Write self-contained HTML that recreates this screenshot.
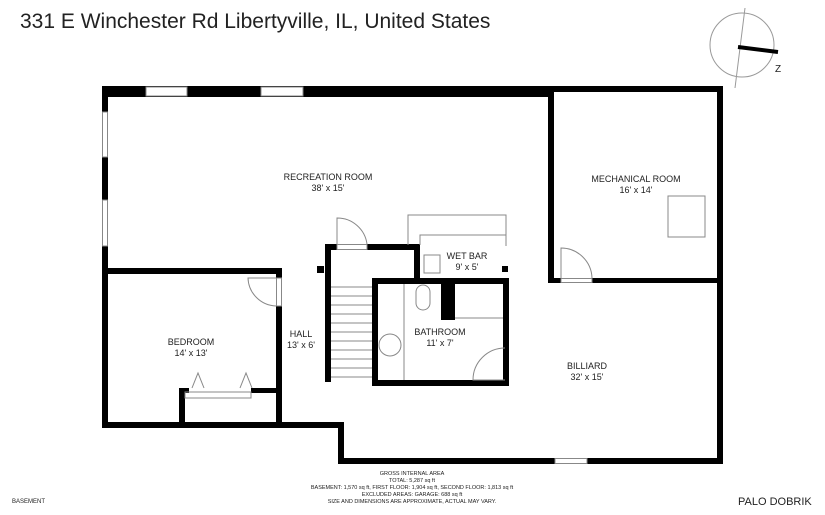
<!DOCTYPE html>
<html><head><meta charset="utf-8"><style>
html,body{margin:0;padding:0;background:#fff;}
svg{display:block;}
text{font-family:"Liberation Sans",sans-serif;fill:#222;}
</style></head><body>
<svg width="825" height="515" viewBox="0 0 825 515">
<text x="20" y="28" font-size="21" fill="#111">331 E Winchester Rd Libertyville, IL, United States</text>
<!-- compass -->
<circle cx="742" cy="45" r="32" fill="none" stroke="#999" stroke-width="1"/>
<line x1="745" y1="8" x2="735" y2="88" stroke="#999" stroke-width="1"/>
<line x1="738" y1="47" x2="778" y2="52" stroke="#000" stroke-width="4"/>
<text x="775" y="72" font-size="10" fill="#999">Z</text>
<g fill="#000">
<!-- outer top -->
<rect x="102" y="86" width="452" height="11"/>
<rect x="548" y="86" width="175" height="6"/>
<!-- left wall -->
<rect x="102" y="86" width="6" height="342"/>
<!-- right wall -->
<rect x="717" y="86" width="6" height="378"/>
<!-- mechanical -->
<rect x="548" y="86" width="6" height="197"/>
<rect x="548" y="278" width="175" height="5"/>
<!-- bedroom -->
<rect x="102" y="268" width="180" height="6"/>
<rect x="276" y="268" width="6" height="160"/>
<rect x="102" y="422" width="242" height="6"/>
<rect x="338" y="422" width="6" height="42"/>
<rect x="338" y="458" width="385" height="6"/>
<!-- closet -->
<rect x="179" y="388" width="6" height="38"/>
<rect x="179" y="388" width="10" height="5"/>
<rect x="251" y="388" width="28" height="5"/>
<!-- stair -->
<rect x="325" y="244" width="6" height="138"/>
<rect x="325" y="244" width="12" height="6"/>
<rect x="367" y="244" width="53" height="6"/>
<rect x="414" y="244" width="6" height="36"/>
<!-- bathroom -->
<rect x="372" y="278" width="6" height="108"/>
<rect x="372" y="278" width="137" height="6"/>
<rect x="372" y="380" width="137" height="6"/>
<rect x="503" y="278" width="6" height="108"/>
<rect x="441" y="280" width="14" height="40"/>
<rect x="317" y="266" width="7" height="7"/>
<rect x="502" y="266" width="6" height="6"/>
</g>
<g fill="#fff" stroke="#888" stroke-width="1">
<rect x="146" y="87" width="41" height="9"/>
<rect x="261" y="87" width="42" height="9"/>
<rect x="102.5" y="112" width="5" height="45"/>
<rect x="102.5" y="200" width="5" height="46"/>
<rect x="555" y="458.5" width="32" height="5"/>
<rect x="276.5" y="278" width="5" height="28"/>
<rect x="561" y="278.5" width="31" height="4"/>
<rect x="337" y="244.5" width="30" height="5"/>
<rect x="668" y="196" width="37" height="41"/>
</g>
<g fill="none" stroke="#888" stroke-width="1">
<path d="M561 278 V248 A31 31 0 0 1 592 278"/>
<path d="M337 244 V218 A30 30 0 0 1 367 244"/>
<path d="M276 306 A29 29 0 0 1 248 278 H276"/>
<path d="M505 380 H473 A32 32 0 0 1 505 348"/>
<path d="M408 245 V215 H506 V246"/>
<path d="M420 245 V235 H506"/>
<path d="M185 398 H251 V392 H185 Z"/>
<path d="M192 388 L198 373 L204 388 M240 388 L246 373 L252 388"/>
<rect x="424" y="255" width="16" height="18"/>
<rect x="416" y="285" width="14" height="25" rx="7"/>
<line x1="455" y1="318" x2="503" y2="318"/>
<line x1="404" y1="284" x2="404" y2="380"/>
<circle cx="390" cy="345" r="11"/>
</g>
<g stroke="#888" stroke-width="1">
<line x1="331" y1="287" x2="372" y2="287"/><line x1="331" y1="296" x2="372" y2="296"/>
<line x1="331" y1="305" x2="372" y2="305"/><line x1="331" y1="314" x2="372" y2="314"/>
<line x1="331" y1="323" x2="372" y2="323"/><line x1="331" y1="332" x2="372" y2="332"/>
<line x1="331" y1="341" x2="372" y2="341"/><line x1="331" y1="350" x2="372" y2="350"/>
<line x1="331" y1="359" x2="372" y2="359"/><line x1="331" y1="368" x2="372" y2="368"/>
<line x1="331" y1="377" x2="372" y2="377"/>
</g>
<g font-size="9" text-anchor="middle">
<text x="328" y="180">RECREATION ROOM</text><text x="328" y="191">38' x 15'</text>
<text x="636" y="182">MECHANICAL ROOM</text><text x="636" y="193">16' x 14'</text>
<text x="467" y="259">WET BAR</text><text x="467" y="270">9' x 5'</text>
<text x="440" y="335">BATHROOM</text><text x="440" y="346">11' x 7'</text>
<text x="191" y="345">BEDROOM</text><text x="191" y="356">14' x 13'</text>
<text x="301" y="337">HALL</text><text x="301" y="348">13' x 6'</text>
<text x="587" y="369">BILLIARD</text><text x="587" y="380">32' x 15'</text>
</g>
<g font-size="5.5" text-anchor="middle" fill="#222">
<text x="412" y="475">GROSS INTERNAL AREA</text>
<text x="412" y="482">TOTAL: 5,287 sq ft</text>
<text x="412" y="489">BASEMENT: 1,570 sq ft, FIRST FLOOR: 1,904 sq ft, SECOND FLOOR: 1,813 sq ft</text>
<text x="412" y="496">EXCLUDED AREAS: GARAGE: 688 sq ft</text>
<text x="412" y="503" fill="#aaa">SIZE AND DIMENSIONS ARE APPROXIMATE, ACTUAL MAY VARY.</text>
</g>
<text x="12" y="503" font-size="6" fill="#666">BASEMENT</text>
<text x="738" y="505" font-size="11" fill="#bbb">PALO DOBRIK</text>
</svg>
</body></html>
